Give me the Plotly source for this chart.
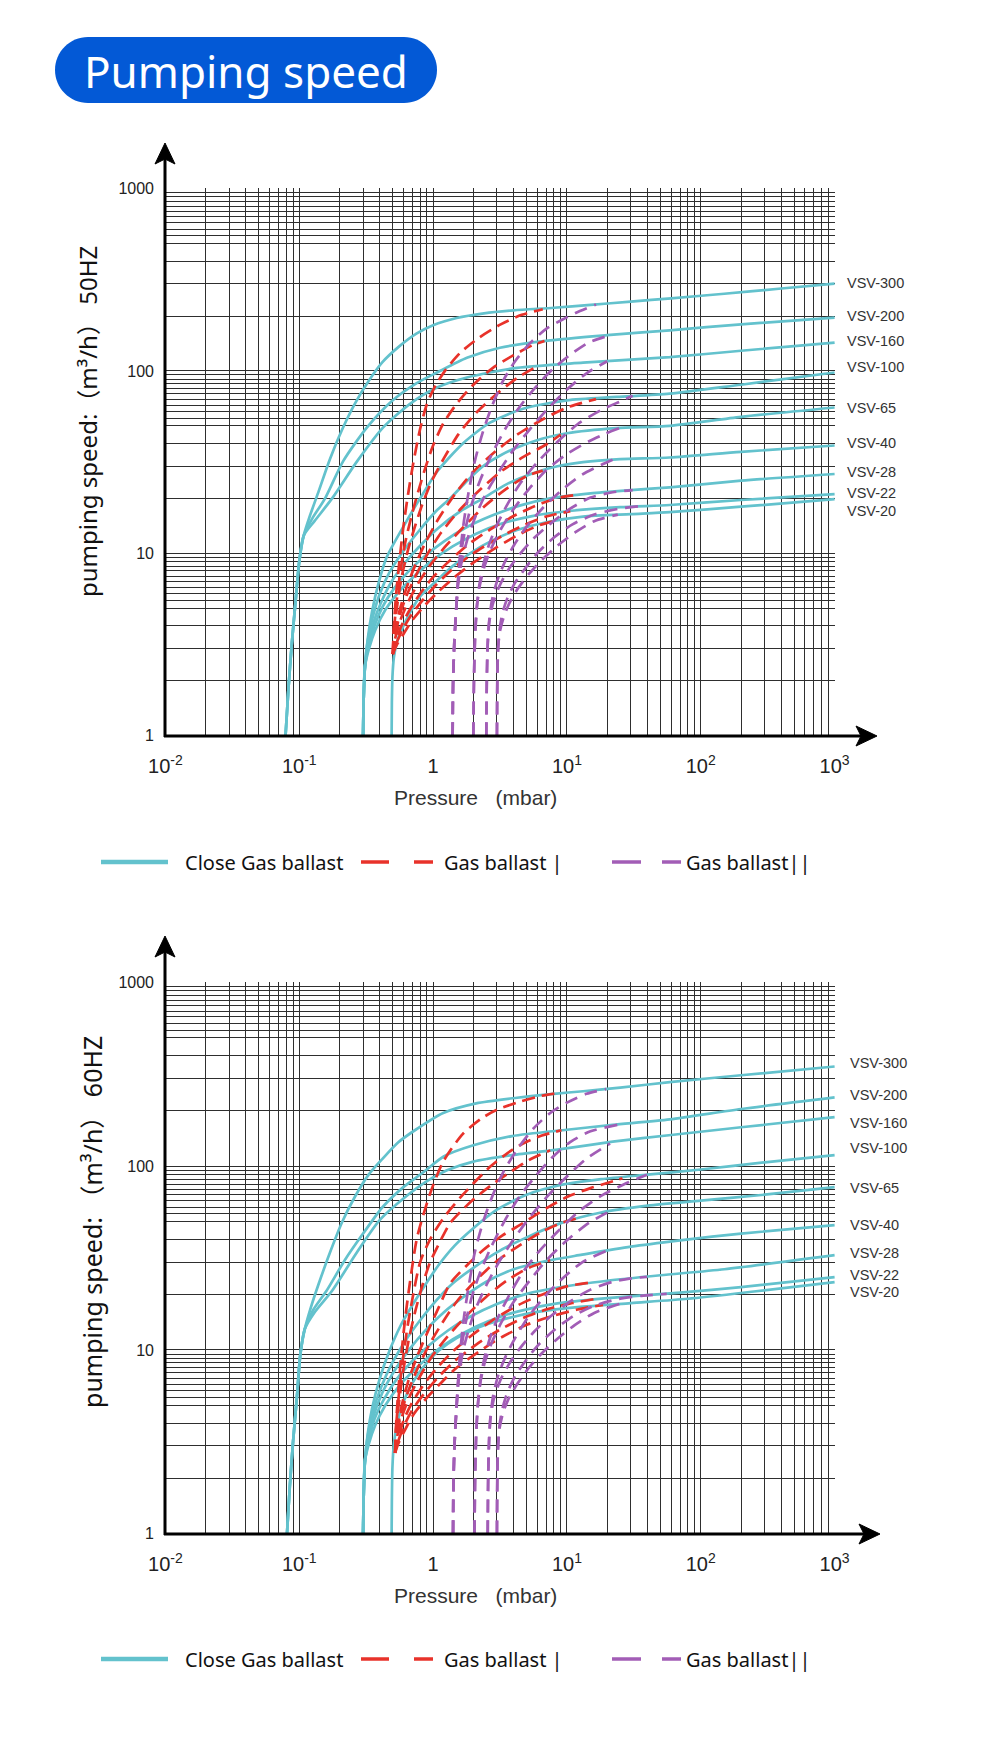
import math
import plotly.graph_objects as go

W, H = 1000, 1760

models = ["VSV-300", "VSV-200", "VSV-160", "VSV-100", "VSV-65", "VSV-40", "VSV-28", "VSV-22", "VSV-20"]

# ------------------------------------------------------------------ 50 Hz
close50_p = [
    [0.079, 0.083, 0.088, 0.094, 0.1, 0.108, 0.12, 0.14, 0.17, 0.21, 0.26, 0.33, 0.42, 0.55, 0.75, 1.0, 1.5, 2.4, 4, 8, 15, 30, 60, 150, 400, 1000],
    [0.079, 0.083, 0.088, 0.094, 0.1, 0.108, 0.125, 0.156, 0.213, 0.321, 0.5, 0.76, 1.07, 1.79, 3.16, 7.5, 20, 58.7, 200, 1000],
    [0.079, 0.083, 0.088, 0.094, 0.1, 0.108, 0.13, 0.176, 0.271, 0.424, 0.673, 1.07, 1.79, 4.24, 13.2, 58.7, 200, 1000],
    [0.3, 0.303, 0.31, 0.325, 0.35, 0.39, 0.45, 0.6, 0.8, 1.07, 1.67, 2.66, 4.7, 10, 23.6, 58.7, 200, 1000],
    [0.3, 0.303, 0.31, 0.325, 0.355, 0.4, 0.47, 0.6, 0.8, 1.05, 1.34, 1.8, 2.36, 3.2, 4.24, 6.5, 10, 23.6, 58.7, 200, 1000],
    [0.3, 0.303, 0.31, 0.328, 0.36, 0.41, 0.49, 0.62, 0.82, 1.1, 1.6, 2.36, 3.5, 5.57, 8.5, 13.2, 25, 58.7, 200, 1000],
    [0.3, 0.303, 0.31, 0.33, 0.365, 0.42, 0.51, 0.65, 0.86, 1.2, 1.75, 2.7, 4.5, 7.5, 15, 30, 58.7, 200, 1000],
    [0.3, 0.303, 0.31, 0.332, 0.37, 0.44, 0.56, 0.74, 1.0, 1.4, 2.1, 3.3, 5.5, 10, 25, 58.7, 200, 1000],
    [0.49, 0.492, 0.497, 0.51, 0.54, 0.6, 0.67, 0.8, 1.07, 1.4, 1.89, 2.8, 4.24, 7, 13.2, 30, 58.7, 200, 1000],
]
close50_s = [
    [1, 1.8, 3.2, 5.5, 9, 12.5, 16, 22, 33, 48, 66, 88, 112, 135, 160, 178, 195, 207, 215, 222, 230, 240, 250, 265, 283, 301],
    [1, 1.8, 3.2, 5.5, 9, 12.5, 15.5, 20, 32, 49, 69, 86, 98, 118, 134, 147, 157, 167, 180, 196],
    [1, 1.8, 3.2, 5.5, 9, 12.5, 15, 20, 32, 49, 66, 81, 92, 104, 111, 119, 129, 143],
    [1, 1.6, 2.4, 3.4, 4.8, 6.8, 9.5, 14, 20, 28, 40, 52, 62, 69, 72, 75, 84, 98],
    [1, 1.6, 2.4, 3.3, 4.5, 6, 7.8, 10.3, 13.5, 17, 20, 25, 30, 34.5, 38, 42.5, 45.5, 48.5, 50, 56, 63],
    [1, 1.6, 2.4, 3.2, 4.2, 5.4, 7, 8.9, 11.2, 13.8, 17, 20, 23.8, 27.5, 30, 31.6, 32.8, 33.5, 36, 39],
    [1, 1.6, 2.4, 3.1, 4, 5.1, 6.4, 7.9, 9.6, 11.6, 13.8, 16, 18.3, 20, 21.3, 22.2, 23, 25, 27.2],
    [1, 1.6, 2.4, 3.0, 3.8, 4.9, 6.2, 7.6, 9.2, 10.9, 12.8, 14.6, 16, 17, 17.9, 18.4, 19.6, 21.1],
    [1, 1.5, 2.1, 2.7, 3.3, 4.0, 4.7, 5.8, 7.1, 8.5, 10, 11.8, 13.4, 14.8, 15.9, 16.4, 16.8, 18, 19.8],
]
gb1_50_p = [
    [0.5, 0.51, 0.53, 0.56, 0.6, 0.65, 0.71, 0.8, 0.9, 1.05, 1.25, 1.6, 2.2, 3.2, 4.6, 6.6],
    [0.51, 0.535, 0.57, 0.62, 0.69, 0.77, 0.87, 1.0, 1.2, 1.5, 2.0, 2.8, 4.0, 5.5, 6.8],
    [0.5, 0.51, 0.54, 0.58, 0.64, 0.72, 0.83, 0.98, 1.2, 1.55, 2.1, 3.0, 4.3, 6.0],
    [0.52, 0.56, 0.63, 0.73, 0.88, 1.1, 1.45, 2.0, 2.9, 4.3, 6.5, 10, 16.5],
    [0.5, 0.52, 0.56, 0.63, 0.74, 0.9, 1.15, 1.55, 2.2, 3.2, 4.8, 7, 9],
    [0.52, 0.57, 0.65, 0.77, 0.95, 1.25, 1.7, 2.4, 3.5, 5, 6.6],
    [0.5, 0.53, 0.58, 0.67, 0.8, 1.0, 1.35, 1.9, 2.8, 4.2, 6.5, 9, 11.9],
    [0.53, 0.59, 0.69, 0.83, 1.05, 1.4, 2.0, 3.0, 4.5, 7, 10.6],
    [0.5, 0.53, 0.6, 0.7, 0.85, 1.08, 1.45, 2.05, 3.0, 4.5, 6.3, 8],
]
gb1_50_s = [
    [2.8, 4, 6, 9, 14, 21, 31, 48, 66, 84, 102, 126, 152, 180, 203, 218],
    [3.8, 5.5, 8, 11.5, 16, 21.5, 29, 39, 52, 66, 84, 104, 122, 138, 146],
    [2.8, 3.7, 5.2, 7.3, 10, 13.5, 18.5, 25, 33, 45, 59, 75, 92, 106],
    [3.6, 4.8, 6.4, 8.5, 11.5, 15.5, 21, 28, 36, 45, 54, 63, 70],
    [2.8, 3.5, 4.5, 5.8, 7.5, 9.8, 13, 17, 22, 28, 34, 39.5, 44.8],
    [3.4, 4.3, 5.4, 6.8, 8.6, 11, 14, 18, 22.5, 26.5, 28.4],
    [2.8, 3.3, 4.0, 4.9, 6.0, 7.4, 9.2, 11.4, 13.8, 16.3, 18.8, 20.3, 20.9],
    [3.2, 3.8, 4.6, 5.5, 6.7, 8.2, 10, 12, 14, 15.9, 17],
    [2.8, 3.1, 3.6, 4.3, 5.1, 6.1, 7.4, 9, 10.8, 12.8, 14.3, 15],
]
gb2_50_p = [
    [1.4, 1.41, 1.44, 1.48, 1.53, 1.6, 1.7, 1.85, 2.05, 2.35, 2.75, 3.3, 4.1, 5.3, 7, 9.5, 12.5, 16.5],
    [1.4, 1.41, 1.44, 1.48, 1.53, 1.61, 1.74, 1.94, 2.24, 2.7, 3.4, 4.4, 5.8, 7.8, 10.5, 14.5, 21],
    [1.4, 1.41, 1.44, 1.48, 1.54, 1.65, 1.84, 2.1, 2.5, 3.1, 4, 5.3, 7.2, 10, 14, 20],
    [2.0, 2.02, 2.06, 2.12, 2.21, 2.36, 2.6, 3.0, 3.6, 4.5, 6, 8.4, 12, 18, 25, 31],
    [2.0, 2.02, 2.06, 2.12, 2.22, 2.4, 2.7, 3.2, 4.0, 5.2, 7, 10, 14.5, 19, 24.6],
    [2.5, 2.52, 2.56, 2.62, 2.75, 3.0, 3.4, 4.0, 5.0, 6.5, 9, 13, 18, 22],
    [2.5, 2.52, 2.56, 2.63, 2.8, 3.1, 3.6, 4.4, 5.6, 7.5, 10.5, 15, 22, 31],
    [3.0, 3.02, 3.06, 3.14, 3.3, 3.6, 4.1, 4.9, 6.0, 8.0, 11, 16, 24, 35],
    [3.0, 3.02, 3.06, 3.15, 3.35, 3.7, 4.3, 5.2, 6.5, 8.5, 11.5, 16, 24],
]
gb2_50_s = [
    [1, 1.9, 3.2, 4.6, 6.8, 10.3, 15, 22, 32, 46, 64, 87, 113, 142, 170, 193, 213, 231],
    [1, 1.9, 3.2, 4.6, 6.8, 9.8, 13.5, 18.5, 25, 34, 47, 63, 81, 102, 122, 143, 157],
    [1, 1.9, 3.2, 4.6, 6.8, 9.3, 12.5, 16.3, 21.5, 28, 37, 48, 62, 79, 97, 113],
    [1, 2, 3.5, 5, 6.6, 8.5, 11, 14.3, 18.6, 24.3, 31.5, 40.5, 51, 61, 68, 73],
    [1, 2, 3.5, 5, 6.5, 8.3, 10.5, 13.5, 17.5, 22.5, 28.5, 35, 41, 45, 48.5],
    [1, 2, 3.2, 4.2, 5.5, 7, 8.8, 11, 14, 17.5, 22, 27, 30.5, 32.6],
    [1, 2, 3.2, 4.2, 5.3, 6.5, 8, 9.8, 12, 14.5, 17.5, 20.2, 21.6, 22.2],
    [1, 2, 3, 3.8, 4.7, 5.7, 6.9, 8.3, 10, 12.2, 14.4, 16.3, 17.5, 18.1],
    [1, 2, 3, 3.7, 4.4, 5.3, 6.4, 7.7, 9.2, 11, 13, 15, 16.3],
]

# ------------------------------------------------------------------ 60 Hz
close60_p = [
    [0.081, 0.085, 0.09, 0.096, 0.102, 0.11, 0.122, 0.14, 0.17, 0.21, 0.26, 0.33, 0.42, 0.55, 0.76, 1.19, 2.1, 4.24, 8, 13.2, 25, 58.7, 200, 1000],
    [0.081, 0.085, 0.09, 0.096, 0.102, 0.11, 0.127, 0.16, 0.22, 0.3, 0.42, 0.6, 0.85, 1.2, 2.0, 3.9, 10, 22, 58.7, 200, 1000],
    [0.081, 0.085, 0.09, 0.096, 0.102, 0.11, 0.13, 0.176, 0.27, 0.4, 0.62, 0.9, 1.27, 2, 3.9, 9, 22, 60, 200, 1000],
    [0.3, 0.303, 0.31, 0.325, 0.35, 0.4, 0.47, 0.57, 0.7, 0.87, 1.1, 1.45, 2.0, 3.0, 5, 9, 18, 40, 100, 300, 1000],
    [0.3, 0.303, 0.31, 0.325, 0.355, 0.41, 0.5, 0.62, 0.8, 1.05, 1.4, 2.0, 3.0, 5, 9, 18, 40, 100, 300, 1000],
    [0.3, 0.303, 0.31, 0.328, 0.36, 0.42, 0.52, 0.66, 0.87, 1.2, 1.7, 2.5, 4, 7, 13, 30, 70, 200, 1000],
    [0.3, 0.303, 0.31, 0.33, 0.365, 0.43, 0.54, 0.7, 0.95, 1.3, 1.9, 3, 5, 9, 20, 50, 150, 1000],
    [0.3, 0.303, 0.31, 0.332, 0.37, 0.44, 0.56, 0.74, 1.0, 1.4, 2.1, 3.3, 5.5, 10, 25, 70, 200, 1000],
    [0.49, 0.492, 0.497, 0.51, 0.54, 0.6, 0.7, 0.86, 1.1, 1.5, 2.2, 3.5, 6, 12, 30, 80, 250, 1000],
]
close60_s = [
    [1, 1.8, 3.2, 5.5, 9.5, 13, 17, 23, 34, 50, 68, 90, 110, 135, 160, 195, 220, 236, 248, 256, 268, 287, 313, 349],
    [1, 1.8, 3.2, 5.5, 9.5, 13, 16.5, 21, 31, 43, 60, 77, 93, 113, 130, 146, 158, 168, 180, 205, 237],
    [1, 1.8, 3.2, 5.5, 9.5, 13, 16, 21, 34, 51, 68, 83, 95, 106, 115, 124, 136, 148, 163, 185],
    [1, 1.6, 2.5, 3.5, 4.8, 7, 9.8, 13.5, 17.5, 22.5, 29, 37, 46, 58, 70, 79, 85, 90, 96, 105, 115],
    [1, 1.6, 2.5, 3.4, 4.6, 6.3, 8.6, 11.2, 14.5, 18.5, 23, 28, 34, 41, 49, 56, 61, 65, 70, 77],
    [1, 1.6, 2.5, 3.3, 4.4, 5.9, 7.8, 10, 12.7, 16, 19.5, 23.5, 27.5, 30.5, 33, 36.5, 39.5, 43, 47.8],
    [1, 1.6, 2.5, 3.2, 4.2, 5.4, 7, 8.7, 10.7, 12.8, 15.2, 17.8, 20.2, 22, 23.8, 25.5, 27.5, 32.8],
    [1, 1.6, 2.5, 3.1, 3.9, 5.0, 6.4, 7.9, 9.6, 11.4, 13.4, 15.3, 16.9, 18.2, 19.4, 20.5, 22, 24.9],
    [1, 1.5, 2.3, 3.1, 4.0, 5.2, 6.6, 8.2, 9.9, 11.6, 13.3, 14.8, 16.1, 17.1, 18, 19, 20.8, 23.4],
]
gb1_60_p = [
    [0.52, 0.53, 0.55, 0.58, 0.62, 0.67, 0.76, 0.95, 1.19, 1.67, 2.3, 3.0, 4.5, 6.5, 8.6],
    [0.53, 0.555, 0.59, 0.64, 0.71, 0.8, 0.95, 1.19, 1.67, 2.65, 3.6, 4.7, 6.5, 9.1],
    [0.52, 0.53, 0.56, 0.6, 0.66, 0.74, 0.84, 0.95, 1.15, 1.34, 1.7, 2.1, 2.8, 3.7, 5.2, 7.5],
    [0.54, 0.58, 0.65, 0.75, 0.9, 1.1, 1.34, 1.8, 2.37, 3.3, 4.7, 7, 10, 15, 20, 26],
    [0.52, 0.54, 0.58, 0.66, 0.77, 0.93, 1.17, 1.5, 2.1, 3.0, 4.4, 6.5, 9, 12.5],
    [0.54, 0.59, 0.67, 0.8, 0.98, 1.28, 1.75, 2.5, 3.6, 5.2, 7.5],
    [0.52, 0.55, 0.6, 0.69, 0.83, 1.04, 1.4, 2.0, 2.9, 4.3, 6.5, 10, 14.5],
    [0.55, 0.61, 0.71, 0.86, 1.09, 1.45, 2.1, 3.1, 4.7, 7.2, 11, 16],
    [0.52, 0.55, 0.62, 0.72, 0.88, 1.12, 1.5, 2.2, 3.3, 5, 7.8, 12, 18.6],
]
gb1_60_s = [
    [2.75, 4, 6, 9.5, 15, 23, 41, 71, 106, 150, 182, 203, 225, 242, 250],
    [3.9, 5.7, 8.5, 13, 20, 30, 40, 52, 70, 99, 118, 133, 147, 157],
    [2.75, 3.8, 5.4, 7.8, 11.5, 16.5, 23, 30, 40, 49, 59, 68, 80, 92, 108, 122],
    [3.6, 4.9, 6.7, 9, 12.3, 17, 23, 29, 35, 42, 49, 59, 68, 76, 81, 86],
    [2.75, 3.5, 4.6, 6.1, 8, 10.6, 14, 18.3, 24, 30.5, 37, 44, 49, 52.5],
    [3.4, 4.4, 5.6, 7.2, 9.2, 11.8, 15.2, 19.5, 24, 28, 30.8],
    [2.75, 3.3, 4.1, 5.1, 6.3, 7.8, 9.8, 12.2, 14.8, 17.5, 20, 22.2, 23.2],
    [3.2, 3.9, 4.8, 5.8, 7.1, 8.7, 10.7, 12.8, 14.9, 16.7, 18, 18.9],
    [2.75, 3.1, 3.7, 4.5, 5.4, 6.5, 8, 9.8, 11.8, 13.7, 15.3, 16.6, 17.6],
]
gb2_60_p = [
    [1.41, 1.42, 1.45, 1.49, 1.54, 1.61, 1.71, 1.86, 2.05, 2.35, 2.8, 3.4, 4.3, 5.6, 7.5, 10, 14, 19.6],
    [1.41, 1.42, 1.45, 1.49, 1.54, 1.62, 1.75, 1.95, 2.25, 2.7, 3.4, 4.4, 5.8, 7.8, 10.5, 15, 24.8],
    [1.41, 1.42, 1.45, 1.49, 1.55, 1.66, 1.85, 2.1, 2.5, 3.1, 4, 5.3, 7.2, 10, 14, 21],
    [2.04, 2.06, 2.1, 2.16, 2.25, 2.4, 2.65, 3.05, 3.7, 4.6, 6.1, 8.5, 12, 18, 27, 39.6],
    [2.04, 2.06, 2.1, 2.16, 2.26, 2.44, 2.75, 3.25, 4.05, 5.3, 7.1, 10, 14.5, 21],
    [2.56, 2.58, 2.62, 2.68, 2.82, 3.07, 3.48, 4.1, 5.1, 6.6, 9, 13, 19.6],
    [2.56, 2.58, 2.62, 2.69, 2.86, 3.17, 3.7, 4.5, 5.7, 7.6, 10.6, 15, 22, 30, 39.6],
    [3.0, 3.02, 3.06, 3.14, 3.3, 3.6, 4.1, 4.9, 6, 8, 11, 16, 24, 36, 55.7],
    [3.0, 3.02, 3.06, 3.15, 3.35, 3.7, 4.3, 5.2, 6.5, 8.5, 11.5, 16, 24.8],
]
gb2_60_s = [
    [1, 1.9, 3.2, 4.6, 6.8, 10.5, 15.5, 23, 34, 49, 70, 95, 125, 160, 195, 222, 248, 263],
    [1, 1.9, 3.2, 4.6, 6.8, 10, 14, 19.5, 26.5, 36, 50, 68, 88, 112, 135, 155, 169],
    [1, 1.9, 3.2, 4.6, 6.8, 9.6, 13, 17, 22.5, 30, 40, 53, 69, 88, 110, 133],
    [1, 2, 3.5, 5, 6.7, 8.8, 11.5, 15, 19.8, 26, 34, 44, 56, 69, 80, 90],
    [1, 2, 3.5, 5, 6.7, 8.6, 11, 14.2, 18.5, 24, 31, 39.5, 49, 57],
    [1, 2, 3.2, 4.3, 5.7, 7.3, 9.2, 11.6, 15, 19, 24, 30, 34.5],
    [1, 2, 3.2, 4.3, 5.5, 6.8, 8.4, 10.3, 12.6, 15.3, 18.4, 21.3, 23.5, 24.5, 25],
    [1, 2, 3, 3.9, 4.8, 5.9, 7.2, 8.7, 10.5, 12.8, 15.2, 17.4, 18.9, 19.7, 20.2],
    [1, 2, 3, 3.8, 4.6, 5.5, 6.6, 8, 9.6, 11.5, 13.7, 15.9, 17.8],
]

label50_y = [302, 201, 145, 104.6, 63, 40, 27.9, 21.4, 17.0]
label60_y = [363, 243, 173, 125, 76, 47.8, 33.7, 25.6, 20.7]

x_decades = [-2, -1, 0, 1, 2]
x_minor = [1, 2, 3, 4, 5, 6, 7, 8, 9]
x_labels = {0.01: "10<sup>-2</sup>", 0.1: "10<sup>-1</sup>", 1: "1", 10: "10<sup>1</sup>",
            100: "10<sup>2</sup>", 1000: "10<sup>3</sup>"}
y_decades = [0, 1, 2]
y_minor = [1, 2, 3, 4, 5, 5.5, 6, 6.5, 7, 7.5, 8, 8.5, 9, 9.5]
y_labels = {1: "1", 10: "10", 100: "100", 1000: "1000"}

# ------------------------------------------------------------------ styles
CYAN = "#63C2CD"
RED = "#E8322A"
PURPLE = "#A25DB6"
GRID = "#2e2e2e"
FONT_SANS = "Liberation Sans, Arial, sans-serif"
FONT_NOTO = "Noto Sans, Noto Sans CJK SC, sans-serif"


def px(x):
    return x / W


def py(y):
    return 1 - y / H


xv, xt = [], []
for e in x_decades:
    for m in x_minor:
        v = round(m * 10 ** e, 8)
        xv.append(v)
        xt.append(x_labels.get(v, ""))
xv.append(1000)
xt.append(x_labels[1000])

yv, yt = [], []
for e in y_decades:
    for m in y_minor:
        v = round(m * 10 ** e, 8)
        yv.append(v)
        yt.append(y_labels.get(v, ""))
yv.append(1000)
yt.append(y_labels[1000])

fig = go.Figure()

charts = [
    dict(xa="x", ya="y", close=(close50_p, close50_s), gb1=(gb1_50_p, gb1_50_s), gb2=(gb2_50_p, gb2_50_s)),
    dict(xa="x2", ya="y2", close=(close60_p, close60_s), gb1=(gb1_60_p, gb1_60_s), gb2=(gb2_60_p, gb2_60_s)),
]

for ch in charts:
    for i, m in enumerate(models):
        fig.add_trace(go.Scatter(x=ch["close"][0][i], y=ch["close"][1][i], mode="lines",
                                 line=dict(color=CYAN, width=2.7, shape="spline", smoothing=0.7),
                                 xaxis=ch["xa"], yaxis=ch["ya"], showlegend=False, hoverinfo="skip",
                                 name=m + " close"))
    for i, m in enumerate(models):
        fig.add_trace(go.Scatter(x=ch["gb1"][0][i], y=ch["gb1"][1][i], mode="lines",
                                 line=dict(color=RED, width=2.7, dash="13px,7px", shape="spline", smoothing=0.7),
                                 xaxis=ch["xa"], yaxis=ch["ya"], showlegend=False, hoverinfo="skip",
                                 name=m + " GB I"))
    for i, m in enumerate(models):
        fig.add_trace(go.Scatter(x=ch["gb2"][0][i], y=ch["gb2"][1][i], mode="lines",
                                 line=dict(color=PURPLE, width=2.7, dash="13px,8px", shape="spline", smoothing=0.7),
                                 xaxis=ch["xa"], yaxis=ch["ya"], showlegend=False, hoverinfo="skip",
                                 name=m + " GB II"))

# plot geometry (pixels)
X0, X1 = 165, 835
geo = [dict(top=188, bot=736), dict(top=982, bot=1534)]


def xaxis_cfg(anchor):
    return dict(type="log", range=[-2.003, 3.003], domain=[px(X0), px(X1)], anchor=anchor,
                tickmode="array", tickvals=xv, ticktext=xt, showgrid=True, gridcolor=GRID,
                gridwidth=1.4, ticks="", showline=False, zeroline=False, fixedrange=True,
                automargin=False,
                tickfont=dict(family=FONT_SANS, size=20, color="#222"), ticklabelstandoff=16)


def yaxis_cfg(anchor, g):
    return dict(type="log", range=[-0.002, 3.003], domain=[py(g["bot"]), py(g["top"])], anchor=anchor,
                tickmode="array", tickvals=yv, ticktext=yt, showgrid=True, gridcolor=GRID,
                gridwidth=1.4, ticks="", showline=False, zeroline=False, fixedrange=True,
                automargin=False,
                tickfont=dict(family=FONT_SANS, size=16, color="#222"), ticklabelstandoff=10)


shapes = []
annotations = []

# title pill
L, R, T, B = 55, 437, 37, 103
r = (B - T) / 2
k = 0.5523 * r
cy = (T + B) / 2
path = (f"M {px(L + r)} {py(T)} L {px(R - r)} {py(T)} "
        f"C {px(R - r + k)} {py(T)} {px(R)} {py(cy - k)} {px(R)} {py(cy)} "
        f"C {px(R)} {py(cy + k)} {px(R - r + k)} {py(B)} {px(R - r)} {py(B)} "
        f"L {px(L + r)} {py(B)} "
        f"C {px(L + r - k)} {py(B)} {px(L)} {py(cy + k)} {px(L)} {py(cy)} "
        f"C {px(L)} {py(cy - k)} {px(L + r - k)} {py(T)} {px(L + r)} {py(T)} Z")
shapes.append(dict(type="path", xref="paper", yref="paper", path=path, fillcolor="#0359D6",
                   line=dict(width=0), layer="above"))
annotations.append(dict(text="Pumping speed", xref="paper", yref="paper", x=px((L + R) / 2), y=py(cy + 1),
                        showarrow=False, xanchor="center", yanchor="middle",
                        font=dict(family=FONT_NOTO, size=44, color="white")))

ytitles = ["pumping speed:（m³/h）\u00a050HZ", "pumping speed:\u00a0（m³/h）\u00a060HZ"]
ytitle_pos = [(88, 422), (92, 1222)]
ytitle_size = [24, 25]
arrow_tips_y = [143, 936]
arrow_tips_x = [877, 880]
legend_y = [862, 1659]
label_x = [845, 848]
label_vals = [label50_y, label60_y]

for ci, g in enumerate(geo):
    bot = g["bot"]
    # axis lines
    shapes.append(dict(type="line", xref="paper", yref="paper", x0=px(X0), x1=px(X0),
                       y0=py(bot + 1), y1=py(arrow_tips_y[ci] + 16), line=dict(color="black", width=3),
                       layer="above"))
    shapes.append(dict(type="line", xref="paper", yref="paper", x0=px(X0 - 1), x1=px(arrow_tips_x[ci] - 16),
                       y0=py(bot), y1=py(bot), line=dict(color="black", width=3), layer="above"))
    ty = arrow_tips_y[ci]
    shapes.append(dict(type="path", xref="paper", yref="paper",
                       path=(f"M {px(X0)} {py(ty)} L {px(X0 - 10)} {py(ty + 21)} L {px(X0)} {py(ty + 16)} "
                             f"L {px(X0 + 10)} {py(ty + 21)} Z"),
                       fillcolor="black", line=dict(color="black", width=1), layer="above"))
    tx = arrow_tips_x[ci]
    shapes.append(dict(type="path", xref="paper", yref="paper",
                       path=(f"M {px(tx)} {py(bot)} L {px(tx - 21)} {py(bot - 10)} L {px(tx - 16)} {py(bot)} "
                             f"L {px(tx - 21)} {py(bot + 10)} Z"),
                       fillcolor="black", line=dict(color="black", width=1), layer="above"))
    # axis titles
    annotations.append(dict(text=ytitles[ci], xref="paper", yref="paper", x=px(ytitle_pos[ci][0]),
                            y=py(ytitle_pos[ci][1]), textangle=-90, showarrow=False,
                            xanchor="center", yanchor="middle",
                            font=dict(family=FONT_NOTO, size=ytitle_size[ci], color="#111")))
    annotations.append(dict(text="Pressure\u00a0\u00a0\u00a0(mbar)", xref="paper", yref="paper", x=px(475),
                            y=py(bot + 61), showarrow=False, xanchor="center", yanchor="middle",
                            font=dict(family=FONT_SANS, size=21, color="#333")))
    # model labels
    yref = "y" if ci == 0 else "y2"
    for m, v in zip(models, label_vals[ci]):
        annotations.append(dict(text=m, xref="paper", yref=yref, x=px(label_x[ci]), y=math.log10(v),
                                showarrow=False, xanchor="left", yanchor="middle",
                                font=dict(family=FONT_SANS, size=14.5, color="#333")))
    # legend
    ly = legend_y[ci]
    shapes.append(dict(type="line", xref="paper", yref="paper", x0=px(101), x1=px(168), y0=py(ly), y1=py(ly),
                       line=dict(color=CYAN, width=4.5)))
    for (a, b) in [(361, 389), (414, 433)]:
        shapes.append(dict(type="line", xref="paper", yref="paper", x0=px(a), x1=px(b), y0=py(ly), y1=py(ly),
                           line=dict(color=RED, width=3.5)))
    for (a, b) in [(612, 641), (662, 681)]:
        shapes.append(dict(type="line", xref="paper", yref="paper", x0=px(a), x1=px(b), y0=py(ly), y1=py(ly),
                           line=dict(color=PURPLE, width=3.5)))
    for text, xx in [("Close Gas ballast", 183), ("Gas ballast |", 442), ("Gas ballast||", 684)]:
        annotations.append(dict(text=text, xref="paper", yref="paper", x=px(xx), y=py(ly), showarrow=False,
                                xanchor="left", yanchor="middle",
                                font=dict(family=FONT_NOTO, size=20, color="#111")))

fig.update_layout(
    width=W, height=H, margin=dict(l=0, r=0, t=0, b=0, pad=0, autoexpand=False),
    paper_bgcolor="white", plot_bgcolor="white", showlegend=False,
    xaxis=xaxis_cfg("y"), yaxis=yaxis_cfg("x", geo[0]),
    xaxis2=xaxis_cfg("y2"), yaxis2=yaxis_cfg("x2", geo[1]),
    shapes=shapes, annotations=annotations,
)

fig.write_html("out.html")
